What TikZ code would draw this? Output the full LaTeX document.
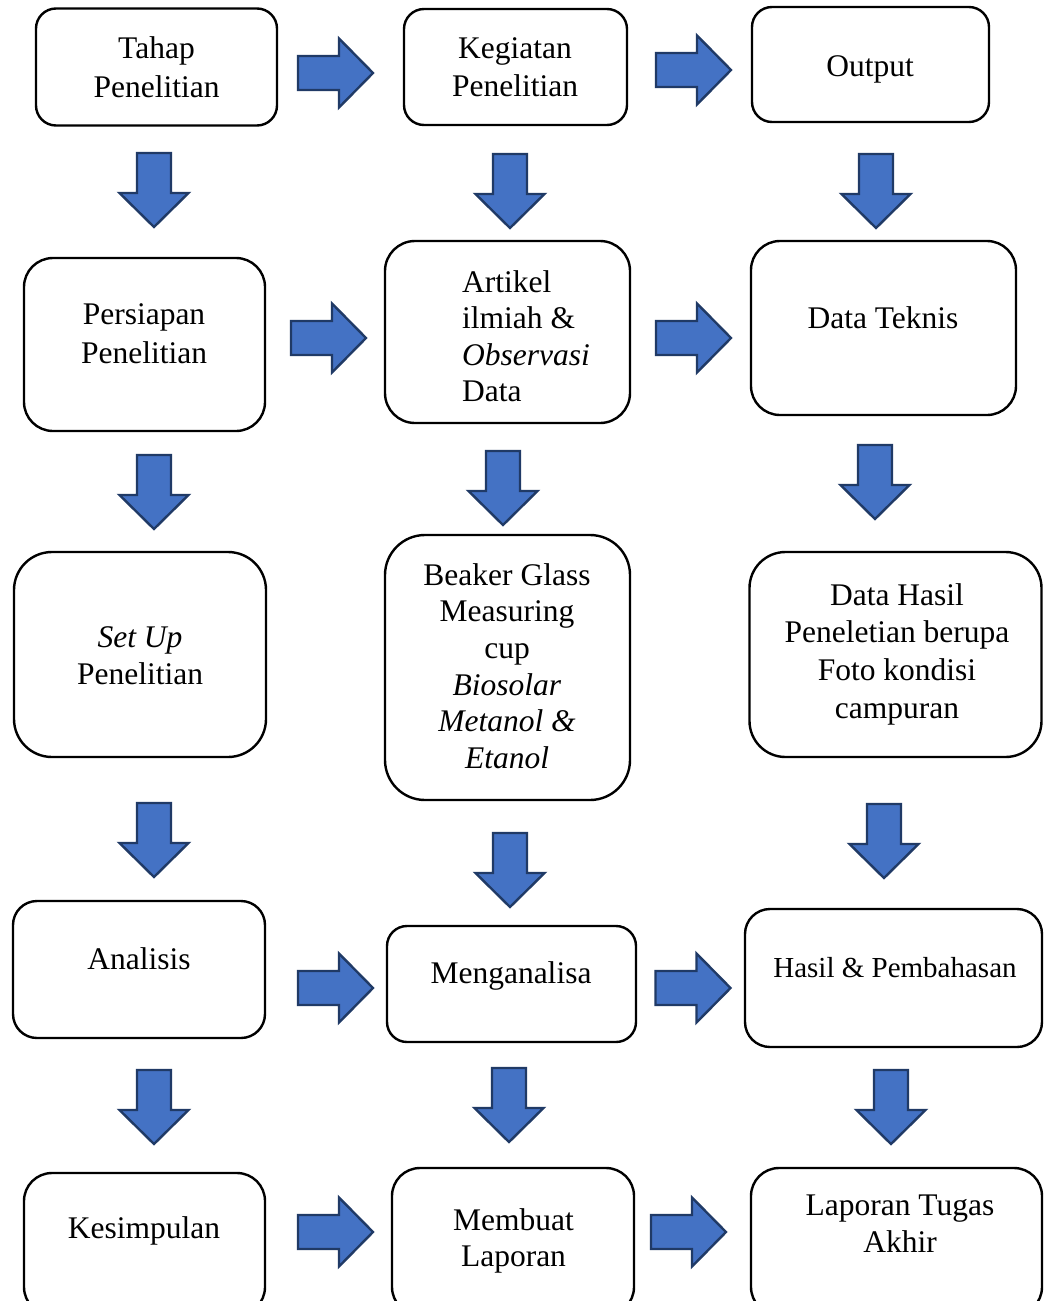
\documentclass[tikz,border=0pt]{standalone}
\usepackage{fontspec}
\setmainfont{Liberation Serif}
\definecolor{arrfill}{HTML}{4472C4}
\definecolor{arrdraw}{HTML}{203A66}
\newcommand\fsz[1]{\fontsize{31.5}{#1}\selectfont}
\begin{document}
\begin{tikzpicture}[x=1pt,y=-1pt,
  box/.style={draw=black, line width=2.4pt, fill=white, inner sep=0pt},
  txt/.style={inner sep=0pt, align=center, anchor=north},
  blk/.style={draw=arrdraw, fill=arrfill, line width=2.4pt, line join=miter},
  rarr/.pic={\draw[blk] (-37.5,-17) -- (3.5,-17) -- (3.5,-34.5) -- (37.5,0) -- (3.5,34.5) -- (3.5,17) -- (-37.5,17) -- cycle;},
  darr/.pic={\draw[blk] (-17,-37) -- (17,-37) -- (17,3) -- (34.5,3) -- (0,37) -- (-34.5,3) -- (-17,3) -- cycle;}
]
\useasboundingbox (0,0) rectangle (1044,1301);
\clip (0,0) rectangle (1044,1301);
\fill[white] (0,0) rectangle (1044,1301);

% ---- boxes ----
\node[box, minimum width=241pt, minimum height=117pt, rounded corners=20pt] (b1) at (156.5,67) {};
\node[box, minimum width=223pt, minimum height=116pt, rounded corners=20pt] (b2) at (515.5,67) {};
\node[box, minimum width=237pt, minimum height=115pt, rounded corners=20pt] (b3) at (870.5,64.5) {};
\node[box, minimum width=241pt, minimum height=173pt, rounded corners=29pt] (b4) at (144.5,344.5) {};
\node[box, minimum width=245pt, minimum height=182pt, rounded corners=30pt] (b5) at (507.5,332) {};
\node[box, minimum width=265pt, minimum height=174pt, rounded corners=29pt] (b6) at (883.5,328) {};
\node[box, minimum width=252pt, minimum height=205pt, rounded corners=38pt] (b7) at (140,654.5) {};
\node[box, minimum width=245pt, minimum height=265pt, rounded corners=40pt] (b8) at (507.5,667.5) {};
\node[box, minimum width=292pt, minimum height=205pt, rounded corners=36pt] (b9) at (895.5,654.5) {};
\node[box, minimum width=252pt, minimum height=137pt, rounded corners=24pt] (b10) at (139,969.5) {};
\node[box, minimum width=249pt, minimum height=116pt, rounded corners=20pt] (b11) at (511.5,984) {};
\node[box, minimum width=297pt, minimum height=138pt, rounded corners=25pt] (b12) at (893.5,978) {};
\node[box, minimum width=241pt, minimum height=142pt, rounded corners=28pt] (b13) at (144.5,1244) {};
\node[box, minimum width=242pt, minimum height=147pt, rounded corners=28pt] (b14) at (513,1241.5) {};
\node[box, minimum width=291pt, minimum height=147pt, rounded corners=28pt] (b15) at (896.5,1241.5) {};

% ---- texts ----
\node[txt, font=\fsz{39}] (t1) at (156.5,30.7) {\strut Tahap\\\strut Penelitian};
\node[txt, font=\fsz{38}] (t2) at (515,31.4) {\strut Kegiatan\\\strut Penelitian};
\node[txt, font=\fsz{37}] (t3) at (870,50.1) {\strut Output};
\node[txt, font=\fsz{39}] (t4) at (144,296.7) {\strut Persiapan\\\strut Penelitian};
\node[txt, font=\fsz{36.5}, anchor=north west, align=left] (t5) at (462,266.4) {\strut Artikel\\\strut ilmiah \&\\\strut\textit{Observasi}\\\strut Data};
\node[txt, font=\fsz{37}] (t6) at (883,302.1) {\strut Data Teknis};
\node[txt, font=\fsz{37}] (t7) at (140,621.1) {\strut\textit{Set Up}\\\strut Penelitian};
\node[txt, font=\fsz{36.6}] (t8) at (507,559.4) {\strut Beaker Glass\\\strut Measuring\\\strut cup\\\strut\textit{Biosolar}\\\strut\textit{Metanol \&}\\\strut\textit{Etanol}};
\node[txt, font=\fsz{37.7}] (t9) at (897,578.6) {\strut Data Hasil\\\strut Peneletian berupa\\\strut Foto kondisi\\\strut campuran};
\node[txt, font=\fsz{37}] (t10) at (139,943.1) {\strut Analisis};
\node[txt, font=\fsz{37}] (t11) at (511,957.1) {\strut Menganalisa};
\node[txt, font=\fontsize{29}{37}\selectfont] (t12) at (895,951.1) {\strut Hasil \& Pembahasan};
\node[txt, font=\fsz{37}] (t13) at (144,1212.1) {\strut Kesimpulan};
\node[txt, font=\fsz{36}] (t14) at (513.5,1204.8) {\strut Membuat\\\strut Laporan};
\node[txt, font=\fsz{37}] (t15) at (900,1189.1) {\strut Laporan Tugas\\\strut Akhir};

% ---- right arrows ----
\pic (r1) at (335.5,73) {rarr};
\pic (r2) at (693.5,70) {rarr};
\pic (r3) at (328.5,338) {rarr};
\pic (r4) at (693.5,338) {rarr};
\pic (r5) at (335.5,988) {rarr};
\pic (r6) at (693,988) {rarr};
\pic (r7) at (335.5,1232) {rarr};
\pic (r8) at (688.5,1232) {rarr};

% ---- down arrows ----
\pic (d1) at (154,190) {darr};
\pic (d2) at (510,191) {darr};
\pic (d3) at (876,191) {darr};
\pic (d4) at (154,492) {darr};
\pic (d5) at (503,488) {darr};
\pic (d6) at (875,482) {darr};
\pic (d7) at (154,840) {darr};
\pic (d8) at (510,870) {darr};
\pic (d9) at (884,841) {darr};
\pic (d10) at (154,1107) {darr};
\pic (d11) at (509,1105) {darr};
\pic (d12) at (891,1107) {darr};
\end{tikzpicture}
\end{document}
